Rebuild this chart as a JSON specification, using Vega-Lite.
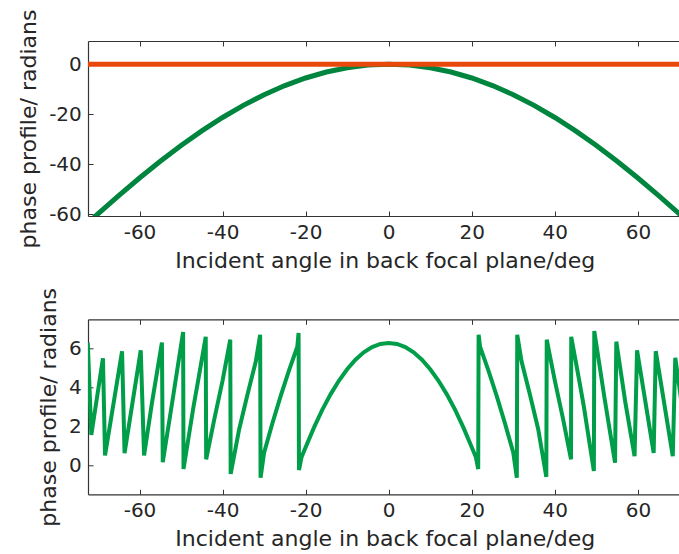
{
  "$schema": "https://vega.github.io/schema/vega-lite/v6.json",
  "background": "white",
  "padding": {"left": 17, "top": 9, "right": 0, "bottom": 0},
  "bounds": "flush",
  "spacing": 103.3,
  "config": {
    "view": {"stroke": null},
    "font": "DejaVu Sans",
    "axis": {
      "labelFont": "DejaVu Sans",
      "labelFontSize": 20,
      "labelColor": "#262626",
      "titleFont": "DejaVu Sans",
      "titleFontSize": 22,
      "titleFontWeight": "normal",
      "titleColor": "#262626",
      "domainColor": "#333333",
      "domainWidth": 1.2,
      "tickColor": "#333333",
      "tickWidth": 1,
      "tickSize": -5,
      "grid": false,
      "labelExpr": "toString(datum.value)"
    }
  },
  "datasets": {
    "top": [
      {"angle": -73, "phase": -64.39},
      {"angle": -72, "phase": -62.88},
      {"angle": -70, "phase": -59.88},
      {"angle": -65, "phase": -52.54},
      {"angle": -60, "phase": -45.5},
      {"angle": -55, "phase": -38.81},
      {"angle": -50, "phase": -32.51},
      {"angle": -45, "phase": -26.65},
      {"angle": -40, "phase": -21.29},
      {"angle": -35, "phase": -16.46},
      {"angle": -30, "phase": -12.19},
      {"angle": -25, "phase": -8.53},
      {"angle": -20, "phase": -5.49},
      {"angle": -15, "phase": -3.1},
      {"angle": -10, "phase": -1.38},
      {"angle": -5, "phase": -0.35},
      {"angle": 0, "phase": 0},
      {"angle": 5, "phase": -0.35},
      {"angle": 10, "phase": -1.38},
      {"angle": 15, "phase": -3.1},
      {"angle": 20, "phase": -5.49},
      {"angle": 25, "phase": -8.53},
      {"angle": 30, "phase": -12.19},
      {"angle": 35, "phase": -16.46},
      {"angle": 40, "phase": -21.29},
      {"angle": 45, "phase": -26.65},
      {"angle": 50, "phase": -32.51},
      {"angle": 55, "phase": -38.81},
      {"angle": 60, "phase": -45.5},
      {"angle": 65, "phase": -52.54},
      {"angle": 70, "phase": -59.88},
      {"angle": 72, "phase": -62.88}
    ],
    "zero": [
      {"angle": -75, "phase": 0},
      {"angle": 75, "phase": 0}
    ],
    "wrapped": [
      {"angle": -72.45, "phase": 6.3},
      {"angle": -71.6, "phase": 1.55},
      {"angle": -68.8, "phase": 5.5},
      {"angle": -68.3, "phase": 0.5},
      {"angle": -64.2, "phase": 5.85},
      {"angle": -63.6, "phase": 0.62},
      {"angle": -59.7, "phase": 5.9},
      {"angle": -58.9, "phase": 0.5},
      {"angle": -57, "phase": 3.2},
      {"angle": -54.6, "phase": 6.3},
      {"angle": -54.4, "phase": 0.15},
      {"angle": -52, "phase": 3.4},
      {"angle": -49.5, "phase": 6.85},
      {"angle": -49.4, "phase": -0.2},
      {"angle": -47, "phase": 3.0},
      {"angle": -46, "phase": 4.2},
      {"angle": -44.05, "phase": 6.6},
      {"angle": -43.95, "phase": 0.3},
      {"angle": -42, "phase": 2.35},
      {"angle": -40, "phase": 4.35},
      {"angle": -38.15, "phase": 6.45},
      {"angle": -38.05, "phase": -0.45},
      {"angle": -36, "phase": 1.85},
      {"angle": -34, "phase": 3.63},
      {"angle": -32, "phase": 5.33},
      {"angle": -30.95, "phase": 6.7},
      {"angle": -30.85, "phase": -0.65},
      {"angle": -30, "phase": 0.64},
      {"angle": -28, "phase": 2.15},
      {"angle": -26, "phase": 3.56},
      {"angle": -24, "phase": 4.87},
      {"angle": -22, "phase": 6.09},
      {"angle": -21.7, "phase": 6.8},
      {"angle": -21.6, "phase": -0.25},
      {"angle": -21, "phase": 0.4},
      {"angle": -20, "phase": 0.92},
      {"angle": -18, "phase": 1.93},
      {"angle": -16, "phase": 2.84},
      {"angle": -14, "phase": 3.64},
      {"angle": -12, "phase": 4.34},
      {"angle": -10, "phase": 4.93},
      {"angle": -8, "phase": 5.42},
      {"angle": -6, "phase": 5.8},
      {"angle": -4, "phase": 6.07},
      {"angle": -2, "phase": 6.23},
      {"angle": 0, "phase": 6.28},
      {"angle": 2, "phase": 6.23},
      {"angle": 4, "phase": 6.07},
      {"angle": 6, "phase": 5.8},
      {"angle": 8, "phase": 5.42},
      {"angle": 10, "phase": 4.93},
      {"angle": 12, "phase": 4.34},
      {"angle": 14, "phase": 3.64},
      {"angle": 16, "phase": 2.84},
      {"angle": 18, "phase": 1.93},
      {"angle": 20, "phase": 0.92},
      {"angle": 21, "phase": 0.4},
      {"angle": 21.55, "phase": -0.2},
      {"angle": 21.65, "phase": 6.7},
      {"angle": 22, "phase": 6.09},
      {"angle": 24, "phase": 4.87},
      {"angle": 26, "phase": 3.56},
      {"angle": 28, "phase": 2.15},
      {"angle": 30, "phase": 0.64},
      {"angle": 30.85, "phase": -0.65},
      {"angle": 30.95, "phase": 6.7},
      {"angle": 32, "phase": 5.33},
      {"angle": 34, "phase": 3.63},
      {"angle": 36, "phase": 1.85},
      {"angle": 37.95, "phase": -0.6},
      {"angle": 38.05, "phase": 6.45},
      {"angle": 40, "phase": 4.35},
      {"angle": 42, "phase": 2.35},
      {"angle": 43.9, "phase": 0.3},
      {"angle": 43.95, "phase": 6.6},
      {"angle": 46, "phase": 4.2},
      {"angle": 47, "phase": 3.0},
      {"angle": 49.4, "phase": -0.3},
      {"angle": 49.5, "phase": 6.9},
      {"angle": 52, "phase": 3.4},
      {"angle": 54.5, "phase": 0.12},
      {"angle": 54.8, "phase": 6.35},
      {"angle": 57, "phase": 3.2},
      {"angle": 59.2, "phase": 0.46},
      {"angle": 59.8, "phase": 5.9},
      {"angle": 63.8, "phase": 0.63},
      {"angle": 64.3, "phase": 5.86},
      {"angle": 68.4, "phase": 0.46},
      {"angle": 69.0, "phase": 5.52},
      {"angle": 71.6, "phase": 1.55},
      {"angle": 72.45, "phase": 6.3}
    ]
  },
  "vconcat": [
    {
      "width": 593.5,
      "height": 175,
      "resolve": {"axis": {"x": "independent"}},
      "layer": [
        {
          "data": {"name": "top"},
          "mark": {"type": "line", "color": "#00853F", "strokeWidth": 5, "clip": true},
          "encoding": {
            "x": {
              "field": "angle", "type": "quantitative",
              "scale": {"domain": [-72.4, 70.5], "nice": false, "zero": false},
              "axis": {"values": [-60, -40, -20, 0, 20, 40, 60], "labelPadding": 11.5, "titlePadding": 7.5, "title": "Incident angle in back focal plane/deg"}
            },
            "y": {
              "field": "phase", "type": "quantitative",
              "scale": {"domain": [-60.7, 9.3], "nice": false, "zero": false},
              "axis": {"values": [-60, -40, -20, 0], "labelPadding": 11.7, "titlePadding": 8, "title": "phase profile/ radians"}
            }
          }
        },
        {
          "data": {"name": "zero"},
          "mark": {"type": "line", "color": "#E8480C", "strokeWidth": 5, "clip": true},
          "encoding": {
            "x": {
              "field": "angle", "type": "quantitative",
              "axis": {"orient": "top", "values": [-60, -40, -20, 0, 20, 40, 60], "labels": false, "title": null}
            },
            "y": {"field": "phase", "type": "quantitative"}
          }
        }
      ]
    },
    {
      "width": 593.5,
      "height": 175,
      "resolve": {"axis": {"x": "independent"}},
      "data": {"name": "wrapped"},
      "layer": [
        {
          "mark": {"type": "line", "color": "#009E49", "strokeWidth": 4, "clip": true},
          "encoding": {
            "x": {
              "field": "angle", "type": "quantitative",
              "scale": {"domain": [-72.4, 70.5], "nice": false, "zero": false},
              "axis": {"values": [-60, -40, -20, 0, 20, 40, 60], "labelPadding": 11.5, "titlePadding": 7.5, "title": "Incident angle in back focal plane/deg"}
            },
            "y": {
              "field": "phase", "type": "quantitative",
              "scale": {"domain": [-1.5, 7.5], "nice": false, "zero": false},
              "axis": {"values": [0, 2, 4, 6], "labelPadding": 11.7, "titlePadding": 8, "title": "phase profile/ radians"}
            }
          }
        },
        {
          "mark": {"type": "line", "opacity": 0, "clip": true},
          "encoding": {
            "x": {
              "field": "angle", "type": "quantitative",
              "axis": {"orient": "top", "values": [-60, -40, -20, 0, 20, 40, 60], "labels": false, "title": null}
            },
            "y": {"field": "phase", "type": "quantitative"}
          }
        }
      ]
    }
  ]
}
